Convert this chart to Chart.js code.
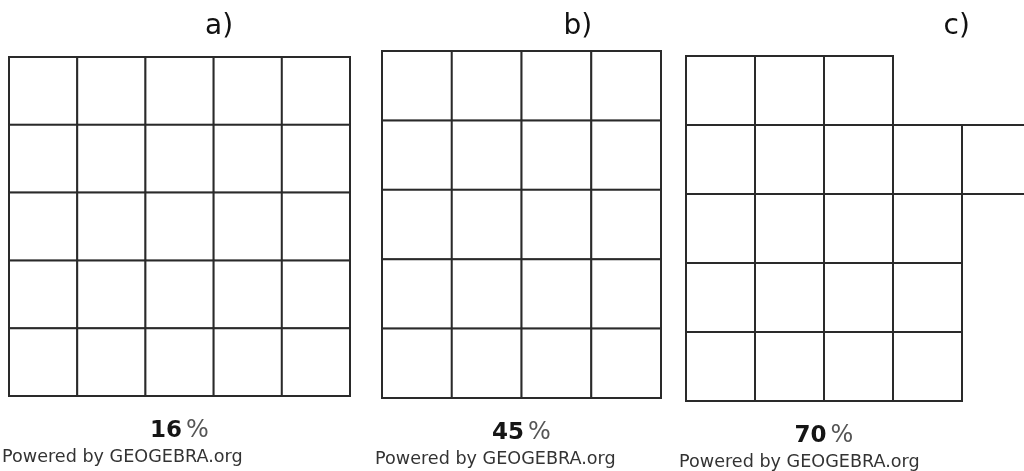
<!DOCTYPE html>
<html>
<head>
<meta charset="utf-8">
<title>Squares</title>
<script src="https://cdn.jsdelivr.net/npm/chart.js@4.4.1/dist/chart.umd.min.js"></script>
<style>
  html, body { margin: 0; padding: 0; background: #fff; overflow: hidden; }
  .panel { position: absolute; left: 0; top: 0; }
</style>
</head>
<body>
<canvas id="chartA" class="panel" width="1024" height="471"></canvas>
<canvas id="chartB" class="panel" width="1024" height="471"></canvas>
<!-- c) is wider than the page: its last column is cut by the right edge -->
<canvas id="chartC" class="panel" width="1044" height="471"></canvas>
<script>
const panelLetters = ['a)', 'b)', 'c)'];
const percentValues = [16, 45, 70];
const footerText = 'Powered by GEOGEBRA.org';

// each column is a pile of unit squares, from row start up to row end (counted from the bottom)
const aColumns = ['1', '2', '3', '4', '5'];
const aRowStart = [0, 0, 0, 0, 0];
const aRowEnd = [5, 5, 5, 5, 5];

const bColumns = ['1', '2', '3', '4'];
const bRowStart = [0, 0, 0, 0];
const bRowEnd = [5, 5, 5, 5];

const cColumns = ['1', '2', '3', '4', '5'];
const cRowStart = [0, 0, 0, 0, 3];
const cRowEnd = [5, 5, 5, 4, 4];

const lineColor = '#2a2a2a';

// one dataset per row, every cell is a floating bar [row, row + 1]
function buildRows(starts, ends) {
  const top = Math.max(...ends);
  const rows = [];
  for (let r = 0; r < top; r++) {
    rows.push({
      label: 'row ' + (r + 1),
      data: starts.map((s, i) => (r >= s && r < ends[i]) ? [r, r + 1] : null),
      backgroundColor: '#fff',
      borderColor: lineColor,
      borderWidth: 2,
      borderSkipped: false,
      inflateAmount: 1,
      grouped: false,
      clip: false,
      barPercentage: 1,
      categoryPercentage: 1
    });
  }
  return rows;
}

const captionPlugin = {
  id: 'caption',
  afterDraw(chart, args, opts) {
    const ctx = chart.ctx;
    const area = chart.chartArea;
    const cellW = (area.right - area.left) / chart.data.labels.length;
    ctx.save();
    ctx.textBaseline = 'alphabetic';
    ctx.textAlign = 'left';

    ctx.font = '28px "DejaVu Sans"';
    ctx.fillStyle = '#111';
    ctx.fillText(opts.letter, opts.letterX, opts.letterY);

    // number and percent sign, centred under the full columns
    const numFont = 'bold 23px "DejaVu Sans"';
    const signFont = '24px "DejaVu Sans"';
    const numText = String(opts.percent);
    ctx.font = numFont;
    const numW = ctx.measureText(numText).width;
    ctx.font = signFont;
    const signW = ctx.measureText('%').width;
    const gap = 4;
    const cx = area.left + cellW * opts.spanColumns / 2;
    const x = cx - (numW + gap + signW) / 2;
    const y = area.bottom + 41;
    ctx.font = numFont;
    ctx.fillStyle = '#151515';
    ctx.fillText(numText, x, y);
    ctx.font = signFont;
    ctx.fillStyle = '#555';
    ctx.fillText('%', x + numW + gap, y);

    ctx.font = '17.6px "DejaVu Sans"';
    ctx.fillStyle = '#333';
    ctx.fillText(footerText, area.left - 7, area.bottom + 66);
    ctx.restore();
  }
};

function makePanel(id, columns, starts, ends, padding, caption) {
  new Chart(document.getElementById(id), {
    type: 'bar',
    data: {
      labels: columns,
      datasets: buildRows(starts, ends)
    },
    options: {
      responsive: false,
      animation: false,
      layout: { padding: padding },
      scales: {
        x: { type: 'category', display: false, offset: true },
        y: { type: 'linear', display: false, min: 0, max: 5 }
      },
      plugins: {
        legend: { display: false },
        tooltip: { enabled: false },
        caption: caption
      }
    },
    plugins: [captionPlugin]
  });
}

makePanel('chartA', aColumns, aRowStart, aRowEnd,
  { left: 9, top: 57, right: 674, bottom: 75 },
  { letter: panelLetters[0], letterX: 205, letterY: 34, percent: percentValues[0], spanColumns: 5 });

makePanel('chartB', bColumns, bRowStart, bRowEnd,
  { left: 382, top: 51, right: 363, bottom: 73 },
  { letter: panelLetters[1], letterX: 563.5, letterY: 34, percent: percentValues[1], spanColumns: 4 });

makePanel('chartC', cColumns, cRowStart, cRowEnd,
  { left: 686, top: 56, right: 13, bottom: 70 },
  { letter: panelLetters[2], letterX: 943.5, letterY: 34, percent: percentValues[2], spanColumns: 4 });
</script>
</body>
</html>
